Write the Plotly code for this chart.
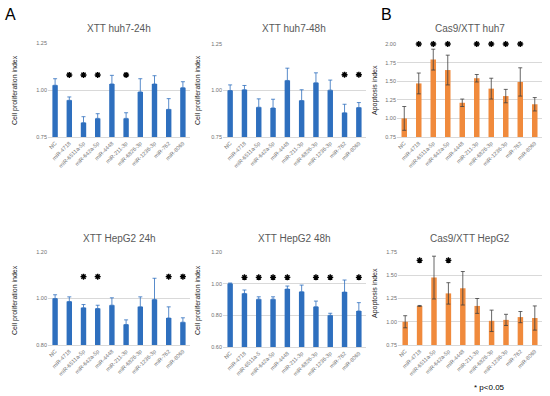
import plotly.graph_objects as go

categories = ["NC", "miR-4718", "miR-6511a-5p", "miR-642a-5p", "miR-4448", "miR-211-3p",
              "miR-6826-3p", "miR-1236-3p", "miR-762", "miR-8069"]
categories_48 = ["NC", "miR-4718", "miR-6511a-5", "miR-642a-5p", "miR-4448", "miR-211-3p",
                 "miR-6826-3p", "miR-1236-3p", "miR-762", "miR-8069"]

# huh7 24h
huh7_24_vals = [1.025, 0.945, 0.826, 0.849, 1.032, 0.849, 0.990, 1.032, 0.897, 1.012]
huh7_24_err = [0.035, 0.018, 0.032, 0.025, 0.046, 0.030, 0.070, 0.044, 0.057, 0.032]
huh7_24_sig = [0, 1, 1, 1, 0, 1, 0, 0, 0, 0]
# huh7 48h
huh7_48_vals = [1.000, 1.004, 0.910, 0.906, 1.054, 0.946, 1.041, 1.002, 0.880, 0.908]
huh7_48_err = [0.030, 0.023, 0.045, 0.047, 0.066, 0.058, 0.054, 0.054, 0.046, 0.027]
huh7_48_sig = [0, 0, 0, 0, 0, 0, 0, 0, 1, 1]
# Cas9 huh7
cas_huh7_vals = [1.00, 1.47, 1.79, 1.65, 1.21, 1.54, 1.40, 1.30, 1.49, 1.19]
cas_huh7_err = [0.16, 0.14, 0.14, 0.20, 0.05, 0.05, 0.14, 0.09, 0.19, 0.09]
cas_huh7_sig = [0, 1, 1, 1, 0, 1, 1, 1, 1, 0]
# HepG2 24h
hep_24_vals = [1.000, 0.987, 0.960, 0.957, 0.971, 0.888, 0.964, 0.996, 0.916, 0.898]
hep_24_err = [0.016, 0.020, 0.014, 0.014, 0.032, 0.020, 0.043, 0.091, 0.048, 0.019]
hep_24_sig = [0, 0, 1, 1, 0, 0, 0, 0, 1, 1]
# HepG2 48h
hep_48_vals = [1.000, 0.938, 0.902, 0.902, 0.966, 0.949, 0.854, 0.800, 0.947, 0.827]
hep_48_err = [0.004, 0.022, 0.015, 0.015, 0.019, 0.042, 0.036, 0.013, 0.076, 0.053]
hep_48_sig = [0, 1, 1, 1, 1, 0, 1, 1, 0, 1]
# Cas9 HepG2
cas_hep_vals = [1.00, 1.17, 1.475, 1.305, 1.36, 1.17, 1.01, 1.02, 1.05, 1.04]
cas_hep_err = [0.065, 0.005, 0.23, 0.115, 0.18, 0.08, 0.115, 0.06, 0.06, 0.13]
cas_hep_sig = [0, 1, 0, 1, 0, 0, 0, 0, 0, 0]

panels = [
    dict(title="XTT huh7-24h", cats=categories, vals=huh7_24_vals, err=huh7_24_err, sig=huh7_24_sig,
         star_y=1.08, rng=[0.75, 1.25], dtick=0.25, color="#2E6FBE", sym=False,
         ytitle="Cell proliferation index"),
    dict(title="XTT huh7-48h", cats=categories, vals=huh7_48_vals, err=huh7_48_err, sig=huh7_48_sig,
         star_y=1.085, rng=[0.75, 1.25], dtick=0.25, color="#2E6FBE", sym=False,
         ytitle="Cell proliferation index"),
    dict(title="Cas9/XTT huh7", cats=categories, vals=cas_huh7_vals, err=cas_huh7_err, sig=cas_huh7_sig,
         star_y=2.0, rng=[0.75, 2.0], dtick=0.25, color="#F08A3C", sym=True,
         ytitle="Apoptosis index"),
    dict(title="XTT HepG2 24h", cats=categories, vals=hep_24_vals, err=hep_24_err, sig=hep_24_sig,
         star_y=1.094, rng=[0.8, 1.2], dtick=0.2, color="#2E6FBE", sym=False,
         ytitle="Cell proliferation index"),
    dict(title="XTT HepG2 48h", cats=categories_48, vals=hep_48_vals, err=hep_48_err, sig=hep_48_sig,
         star_y=1.04, rng=[0.6, 1.2], dtick=0.2, color="#2E6FBE", sym=False,
         ytitle="Cell proliferation index"),
    dict(title="Cas9/XTT HepG2", cats=categories, vals=cas_hep_vals, err=cas_hep_err, sig=cas_hep_sig,
         star_y=1.66, rng=[0.75, 1.75], dtick=0.25, color="#F08A3C", sym=True,
         ytitle="Apoptosis index"),
]

W, H = 550, 396
# pixel boxes for plot areas: (x0, x1, ytop, ybottom)
boxes = [
    (48, 190, 43, 137),
    (223, 366, 44, 137),
    (397, 542, 44, 137),
    (48, 190, 252, 345),
    (223, 366, 252, 347),
    (398, 542, 252, 345),
]
title_pos = [(119, 28), (294, 29), (470, 29), (119, 238), (294, 238), (470, 238)]
ytitle_pos = [(15, 90), (198, 90), (375, 90), (15, 300), (198, 300), (375, 293)]

fig = go.Figure()
layout = dict(width=W, height=H, margin=dict(l=0, r=0, t=0, b=0, pad=0),
              paper_bgcolor="white", plot_bgcolor="white", showlegend=False,
              font=dict(family="Liberation Sans, Arial, sans-serif", color="#595959"))
annotations = []

for i, p in enumerate(panels):
    n = i + 1
    xa = "x" if n == 1 else f"x{n}"
    ya = "y" if n == 1 else f"y{n}"
    x0, x1, yt, yb = boxes[i]
    if p["sym"]:
        err = dict(type="data", array=p["err"], symmetric=True, color="#404040",
                   thickness=0.8, width=2)
    else:
        err = dict(type="data", array=p["err"], arrayminus=[0] * len(p["err"]),
                   symmetric=False, color="#2E6FBE", thickness=0.8, width=2)
    fig.add_trace(go.Bar(x=p["cats"], y=p["vals"], marker=dict(color=p["color"], line=dict(width=0)),
                         error_y=err, xaxis=xa, yaxis=ya, width=0.38))
    sx = [c for c, s in zip(p["cats"], p["sig"]) if s]
    sy = [p["star_y"]] * len(sx)
    fig.add_trace(go.Scatter(x=sx, y=sy, mode="markers", xaxis=xa, yaxis=ya,
                             marker=dict(symbol="asterisk-open", size=5, color="black",
                                         line=dict(color="black", width=1.4)),
                             cliponaxis=False))
    kx = "xaxis" if n == 1 else f"xaxis{n}"
    ky = "yaxis" if n == 1 else f"yaxis{n}"
    layout[kx] = dict(domain=[x0 / W, x1 / W], anchor=ya, tickangle=-45, automargin=False,
                      tickfont=dict(size=5.5, color="#707070"), showline=True,
                      linecolor="#d9d9d9", linewidth=1, ticks="", showgrid=False,
                      categoryorder="array", categoryarray=p["cats"],
                      range=[-0.5, len(p["cats"]) - 0.5], autorange=False)
    layout[ky] = dict(domain=[1 - yb / H, 1 - yt / H], anchor=xa, range=p["rng"],
                      autorange=False, automargin=False, dtick=p["dtick"], tick0=0,
                      tickformat=".2f",
                      tickfont=dict(size=5.5, color="#707070"), showgrid=True,
                      gridcolor="#d9d9d9", gridwidth=1, zeroline=False, ticks="",
                      showline=False)
    tx, ty = title_pos[i]
    annotations.append(dict(text=p["title"], x=tx / W, y=1 - ty / H, xref="paper", yref="paper",
                            showarrow=False, font=dict(size=10, color="#595959"),
                            xanchor="center", yanchor="middle"))
    ax, ay = ytitle_pos[i]
    annotations.append(dict(text=p["ytitle"], x=ax / W, y=1 - ay / H, xref="paper", yref="paper",
                            showarrow=False, textangle=-90, font=dict(size=7, color="#222222"),
                            xanchor="center", yanchor="middle"))

annotations.append(dict(text="A", x=10 / W, y=1 - 15 / H, xref="paper", yref="paper",
                        showarrow=False, font=dict(size=16, color="black"),
                        xanchor="center", yanchor="middle"))
annotations.append(dict(text="B", x=386 / W, y=1 - 14 / H, xref="paper", yref="paper",
                        showarrow=False, font=dict(size=16, color="black"),
                        xanchor="center", yanchor="middle"))
annotations.append(dict(text="* p<0.05", x=489 / W, y=1 - 387 / H, xref="paper", yref="paper",
                        showarrow=False, font=dict(size=8, color="black"),
                        xanchor="center", yanchor="middle"))
layout["annotations"] = annotations
fig.update_layout(**layout)
fig.write_html("out.html", config={"displayModeBar": False},
               post_script="document.body.style.margin='0px';document.body.style.overflow='hidden';")
